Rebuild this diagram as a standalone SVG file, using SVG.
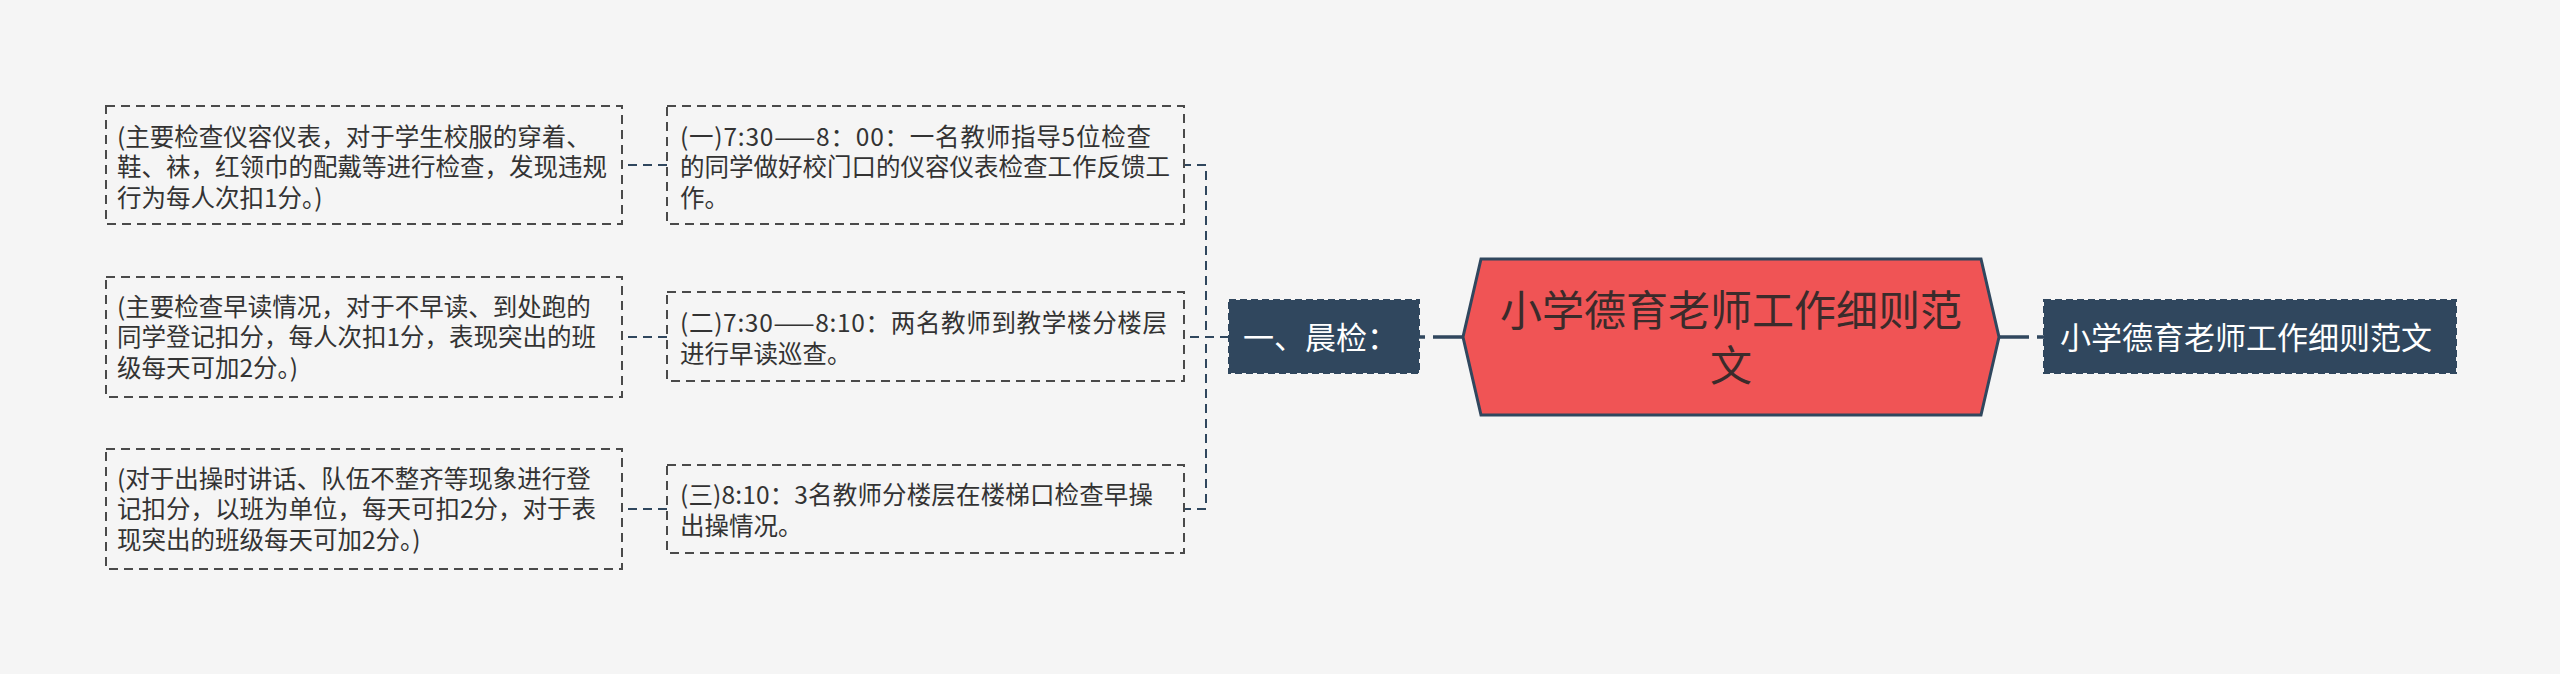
<svg xmlns="http://www.w3.org/2000/svg" width="2560" height="674" viewBox="0 0 2560 674">
<style>
.bg{fill:#f5f5f5}
.box{fill:none;stroke:#4a4a4a;stroke-width:2;stroke-dasharray:9 6}
.t{font-family:"Noto Sans CJK SC","Noto Sans",sans-serif;font-size:24.5px;fill:#333}
.conn{fill:none;stroke:#30475e;stroke-width:2;stroke-dasharray:9 6}
.thick{fill:none;stroke:#30475e;stroke-width:3.5;stroke-dasharray:30 8}
.dark{fill:#30475e;stroke:#30475e;stroke-width:2;stroke-dasharray:7 4}
.wt{font-family:"Noto Sans CJK SC","Noto Sans",sans-serif;font-size:31px;fill:#ffffff}
.ct{font-family:"Noto Sans CJK SC","Noto Sans",sans-serif;font-size:42px;fill:#3b2b2b;text-anchor:middle}
</style>
<rect class="bg" x="0" y="0" width="2560" height="674"/>
<g id="connectors">
<path class="conn" d="M1229,337 H1206 V165 H1184"/>
<path class="conn" d="M1229,337 H1184"/>
<path class="conn" d="M1229,337 H1206 V509 H1184"/>
<path class="conn" d="M667,165 H622"/>
<path class="conn" d="M667,337 H622"/>
<path class="conn" d="M667,509 H622"/>
<path class="thick" d="M1463,337 H1419"/>
<path class="thick" d="M1999,337 H2044"/>
</g>
<g id="center">
<polygon points="1481,259 1981,259 1999,337 1981,415 1481,415 1463,337" fill="#f05455" stroke="#30475e" stroke-width="3"/>
<text class="ct" x="1731" y="326">小学德育老师工作细则范</text>
<text class="ct" x="1731" y="381">文</text>
</g>
<g id="root-left">
<rect class="dark" x="1229" y="300" width="190" height="73"/>
<text class="wt" x="1243" y="349">一、晨检：</text>
</g>
<g id="root-right">
<rect class="dark" x="2044" y="300" width="412" height="73"/>
<text class="wt" x="2060" y="349">小学德育老师工作细则范文</text>
</g>
<g id="mid1">
<rect class="box" x="667" y="106" width="517" height="118"/>
<text class="t" x="680" y="146" textLength="471" lengthAdjust="spacing">(一)7:30——8：00：一名教师指导5位检查</text>
<text class="t" x="680" y="176">的同学做好校门口的仪容仪表检查工作反馈工</text>
<text class="t" x="680" y="207">作。</text>
</g>
<g id="mid2">
<rect class="box" x="667" y="292" width="517" height="89"/>
<text class="t" x="680" y="332" textLength="487" lengthAdjust="spacing">(二)7:30——8:10：两名教师到教学楼分楼层</text>
<text class="t" x="680" y="363">进行早读巡查。</text>
</g>
<g id="mid3">
<rect class="box" x="667" y="465" width="517" height="88"/>
<text class="t" x="680" y="504" textLength="473" lengthAdjust="spacing">(三)8:10：3名教师分楼层在楼梯口检查早操</text>
<text class="t" x="680" y="535">出操情况。</text>
</g>
<g id="left1">
<rect class="box" x="106" y="106" width="516" height="118"/>
<text class="t" x="117" y="146">(主要检查仪容仪表，对于学生校服的穿着、</text>
<text class="t" x="117" y="176">鞋、袜，红领巾的配戴等进行检查，发现违规</text>
<text class="t" x="117" y="207">行为每人次扣1分。)</text>
</g>
<g id="left2">
<rect class="box" x="106" y="277" width="516" height="120"/>
<text class="t" x="117" y="316">(主要检查早读情况，对于不早读、到处跑的</text>
<text class="t" x="117" y="346">同学登记扣分，每人次扣1分，表现突出的班</text>
<text class="t" x="117" y="377">级每天可加2分。)</text>
</g>
<g id="left3">
<rect class="box" x="106" y="449" width="516" height="120"/>
<text class="t" x="117" y="488">(对于出操时讲话、队伍不整齐等现象进行登</text>
<text class="t" x="117" y="518">记扣分，以班为单位，每天可扣2分，对于表</text>
<text class="t" x="117" y="549">现突出的班级每天可加2分。)</text>
</g>
</svg>
